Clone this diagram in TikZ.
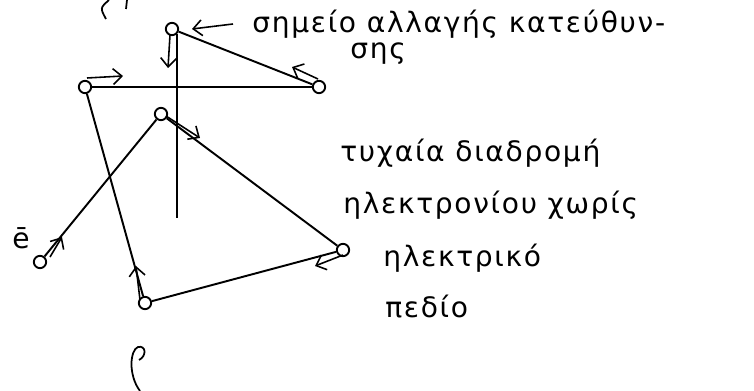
\documentclass[tikz,border=0pt]{standalone}
\usepackage{fontspec}
\setmainfont{DejaVu Sans}
\newfontfamily\handfont[LetterSpace=6]{DejaVu Sans}
\usetikzlibrary{arrows.meta,positioning}

\begin{document}
\begin{tikzpicture}[x=0.02cm, y=-0.02cm,
    stop/.style={draw, circle, line width=1.1pt, inner sep=0pt, minimum size=7pt},
    track/.style={line width=1.1pt},
    dirarrow/.style={line width=0.9pt, -{Straight Barb[length=5pt,width=9pt]}},
    hand/.style={font=\handfont\fontsize{16}{18}\selectfont, anchor=west, inner sep=0pt}]
    \useasboundingbox (0,0) rectangle (754,391);
    % collision points of the electron
    \node[stop] (A) at (40,262) {};
    \node[stop] (B) at (161,114) {};
    \node[stop] (C) at (343,250) {};
    \node[stop] (D) at (145,303) {};
    \node[stop] (E) at (85,87) {};
    \node[stop] (F) at (319,87) {};
    \node[stop] (G) at (172,29) {};
    \coordinate (Gend) at (177,218);
    % free path between collisions
    \foreach \s/\t in {A/B,B/C,C/D,D/E,E/F,F/G}
      \draw[track] (\s) -- (\t);
    \draw[track] (G.south east) -- (Gend);
    % direction of motion after each collision
    \draw[dirarrow] ([shift={(10,-5)}]A.center) -- ++(12,-20);
    \draw[dirarrow] ([shift={(5,2)}]B.center) -- ++(34,22);
    \draw[dirarrow] ([shift={(0,5)}]C.center) -- ++(-28,11);
    \draw[dirarrow] ([shift={(-5,-3)}]D.center) -- ++(-4,-34);
    \draw[dirarrow] ([shift={(2,-9)}]E.center) -- ++(36,-2);
    \draw[dirarrow] ([shift={(-1,-8)}]F.center) -- ++(-26,-12);
    \draw[dirarrow] ([shift={(-2,6)}]G.center) -- ++(-2,33);
    % labels
    \node[hand, anchor=center] (el) at (21,238) {ē};
    \node[hand] (lbl) at (252,24) {σημείο αλλαγής κατεύθυν-};
    \node[hand] (lbl2) at (350,54) {σης};
    \draw[dirarrow] ([shift={(-19,0)}]lbl.west) -- ([shift={(20,0)}]G.center);
    \node[hand] (txt1) at (340,153) {τυχαία διαδρομή};
    \node[hand] (txt2) at (343,205) {ηλεκτρονίου χωρίς};
    \node[hand] (txt3) at (383,258) {ηλεκτρικό};
    \node[hand] (txt4) at (385,307) {πεδίο};
    % stray pen strokes
    \draw[line width=1pt] (109,0) .. controls (100,8) .. (106,19);
    \draw[line width=1pt] (127,0) -- (126,9);
    \draw[line width=1pt] (139,360) .. controls (147,356) and (146,345) .. (138,347)
      .. controls (130,350) and (128,375) .. (140,391);
\end{tikzpicture}
\end{document}
